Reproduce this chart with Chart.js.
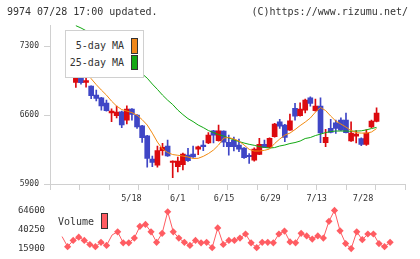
<!DOCTYPE html>
<html><head><meta charset="utf-8">
<script src="https://cdn.jsdelivr.net/npm/chart.js@4"></script>
<style>
html,body{margin:0;padding:0;background:#fff;width:420px;height:259px;overflow:hidden;}
#wrap{position:relative;width:420px;height:259px;}
canvas{position:absolute;left:0;}
.t{position:absolute;font-family:"DejaVu Sans Mono",monospace;color:#333;white-space:nowrap;line-height:12px;}
.box{position:absolute;box-sizing:border-box;border:1px solid #333;}
</style></head><body>
<div id="wrap">
<canvas id="main" width="420" height="205" style="top:0"></canvas>
<canvas id="vol" width="420" height="59" style="top:200px"></canvas>
<div class="t" style="left:7px;top:6px;font-size:10px">9974 07/28 17:00 updated.</div>
<div class="t" style="right:12px;top:6px;font-size:10px">(C)https://www.rizumu.net/</div>
<div style="position:absolute;left:65px;top:30px;width:77px;height:46px;border:1px solid #d0d0d0;background:#fff;"></div>
<div class="t" style="right:296px;top:40px;font-size:10px">5-day MA</div>
<div class="t" style="right:296px;top:57px;font-size:10px">25-day MA</div>
<div class="box" style="left:131px;top:38px;width:7px;height:16px;background:#f0881a"></div>
<div class="box" style="left:131px;top:55px;width:7px;height:15px;background:#14a814"></div>
<div class="t" style="left:58px;top:216px;font-size:10px">Volume</div>
<div class="box" style="left:101px;top:213px;width:7px;height:16px;background:#ff5c62"></div>
</div>
<script>
// ---- data ----
const dateLabels = ['5/18','6/1','6/15','6/29','7/13','7/28'];
const dateLabelIdx = [10,20,30,40,50,60];
const priceTicks = [5900,6600,7300];
const volumeTicks = [15900,40250,64600];

const open  = [7035,6932,7057,6932,6894,6803,6776,6722,6623,6593,6634,6549,6661,6600,6491,6390,6154,6090,6238,6285,
               6118,6076,6096,6194,6204,6255,6296,6316,6441,6339,6438,6323,6346,6296,6265,6191,6143,6201,6303,6272,
               6380,6532,6499,6448,6668,6593,6651,6776,6644,6691,6319,6465,6522,6549,6549,6338,6387,6362,6301,6480,6536];
const high  = [7045,7033,7060,6991,6897,6854,6780,6752,6664,6691,6640,6694,6665,6605,6495,6395,6184,6285,6313,6346,
               6135,6174,6214,6262,6285,6285,6341,6422,6445,6499,6441,6397,6377,6356,6270,6209,6268,6364,6346,6370,
               6515,6556,6505,6610,6719,6725,6762,6786,6762,6776,6455,6556,6549,6573,6620,6532,6443,6370,6453,6549,6674];
const low   = [7035,6881,6915,6884,6767,6745,6651,6640,6532,6570,6471,6509,6549,6465,6323,6072,6076,6072,6194,6180,
               5964,6022,6042,6130,6170,6199,6238,6310,6316,6335,6278,6194,6235,6228,6161,6110,6133,6198,6268,6268,
               6375,6465,6329,6445,6549,6590,6623,6691,6640,6319,6278,6420,6414,6445,6418,6333,6316,6289,6291,6471,6530];
const close = [7045,6978,6928,6950,6798,6769,6694,6644,6641,6630,6499,6661,6608,6481,6370,6161,6118,6240,6272,6184,
               6133,6133,6204,6136,6174,6278,6278,6397,6397,6441,6326,6278,6278,6255,6167,6177,6255,6303,6272,6364,
               6509,6488,6374,6542,6590,6661,6752,6719,6691,6420,6374,6424,6465,6448,6422,6417,6407,6301,6417,6539,6620];
const ma5   = [null,7143,7087,7026,6970,6909,6854,6803,6742,6691,6656,6641,6625,6600,6554,6499,6417,6326,6255,6220,
               6199,6192,6184,6174,6159,6161,6181,6209,6245,6296,6367,6372,6357,6336,6296,6252,6235,6235,6242,6255,
               6311,6357,6397,6417,6453,6493,6529,6570,6630,6676,6646,6590,6539,6509,6478,6443,6422,6417,6417,6428,6463];
const ma25  = [null,7508,7485,7457,7430,7400,7367,7333,7296,7256,7214,7168,7121,7071,7019,6975,6915,6861,6803,6752,
               6707,6651,6605,6564,6534,6499,6473,6443,6422,6402,6387,6367,6349,6331,6316,6303,6293,6280,6272,6265,
               6270,6286,6296,6311,6321,6336,6362,6372,6392,6407,6422,6433,6438,6438,6438,6436,6438,6440,6450,6463,6475];
const volume = [null,31240,18340,26370,30510,26370,21140,18340,23940,19920,33310,37330,23210,23210,29290,44270,46700,37330,23940,35380,
               62900,37330,29290,23940,19920,26370,23210,23940,17120,42200,21140,26370,26370,29290,34530,23210,17120,23940,23940,23210,
               34530,38180,24420,23210,35380,32090,28080,32090,29290,50720,64600,38550,22350,15900,37330,27220,34530,34530,22350,18340,23940];

// ---- layout / style ----
const X_MIN = -1.17, X_MAX = 62.77;
const RED = '#dc0a0f', BLUE = '#3f46c6', AXIS = '#d0d0d0', TXT = '#333';
const FONT = 'DejaVu Sans Mono';
const idx = close.map((_, i) => i);
const candleColors = idx.map(i => close[i] >= open[i] ? RED : BLUE);
const pts = arr => idx.map(i => ({x: i, y: arr[i]}));

new Chart(document.getElementById('main'), {
  type: 'bar',
  data: { datasets: [
    { type: 'line', data: pts(ma5), borderColor: '#f28a10', borderWidth: 1, pointRadius: 0, tension: 0, order: 0 },
    { type: 'line', data: pts(ma25), borderColor: '#12a812', borderWidth: 1, pointRadius: 0, tension: 0, order: 0 },
    { type: 'bar', data: idx.map(i => ({x: i, y: [open[i], close[i]]})), backgroundColor: candleColors,
      barThickness: 5, grouped: false, minBarLength: 1, order: 1 },
    { type: 'bar', data: idx.map(i => ({x: i, y: [low[i], high[i]]})), backgroundColor: candleColors,
      barThickness: 1, grouped: false, order: 2 }
  ]},
  options: {
    responsive: false, animation: false, devicePixelRatio: 1,
    layout: { padding: { left: 0, right: 14.5, top: 25, bottom: 0 } },
    plugins: { legend: { display: false }, tooltip: { enabled: false } },
    scales: {
      x: { type: 'linear', min: X_MIN, max: X_MAX, position: 'bottom', weight: 0,
           grid: { drawOnChartArea: false, color: AXIS, tickLength: 6 }, border: { color: AXIS },
           ticks: { display: false },
           afterBuildTicks: a => { a.ticks = Array.from({length: 12}, (_, k) => ({value: X_MIN + k * (X_MAX - X_MIN) / 11})); },
           afterFit: a => { a.height = 6; } },
      x2: { type: 'linear', min: X_MIN, max: X_MAX, position: 'bottom', weight: 1,
            grid: { display: false, drawTicks: false }, border: { display: false },
            ticks: { autoSkip: false, maxRotation: 0, padding: 4, color: TXT, font: { family: FONT, size: 8.5 },
                     callback: (v, i) => dateLabels[i] },
            afterBuildTicks: a => { a.ticks = dateLabelIdx.map(v => ({value: v})); },
            afterFit: a => { a.height = 15; } },
      y: { type: 'linear', min: 5900, max: 7515,
           grid: { drawOnChartArea: false, color: AXIS, tickLength: 6 }, border: { color: AXIS },
           ticks: { padding: 5, color: TXT, font: { family: FONT, size: 8 }, callback: v => String(v) },
           afterBuildTicks: a => { a.ticks = priceTicks.map(v => ({value: v})); },
           afterFit: a => { a.width = 50; } }
    }
  }
});

new Chart(document.getElementById('vol'), {
  type: 'line',
  data: { datasets: [
    { data: pts(volume), borderColor: '#ff5c62', backgroundColor: '#ff5c62', borderWidth: 1,
      pointStyle: 'rectRot', pointRadius: idx.map(i => (i === 1 || i === 10) ? 0 : 3.6), pointBorderWidth: 0,
      pointBackgroundColor: '#ff5c62', tension: 0, clip: false }
  ]},
  options: {
    responsive: false, animation: false, devicePixelRatio: 1,
    layout: { padding: { left: 0, right: 14.5, top: 9.3, bottom: 9.7 } },
    plugins: { legend: { display: false }, tooltip: { enabled: false } },
    scales: {
      x: { type: 'linear', min: X_MIN, max: X_MAX, display: false },
      y: { type: 'linear', min: 15900, max: 64600,
           grid: { display: false, drawTicks: false }, border: { display: false },
           ticks: { padding: 5, color: TXT, font: { family: FONT, size: 9 }, callback: v => String(v) },
           afterBuildTicks: a => { a.ticks = volumeTicks.map(v => ({value: v})); },
           afterFit: a => { a.width = 50; } }
    }
  }
});
</script>
</body></html>
